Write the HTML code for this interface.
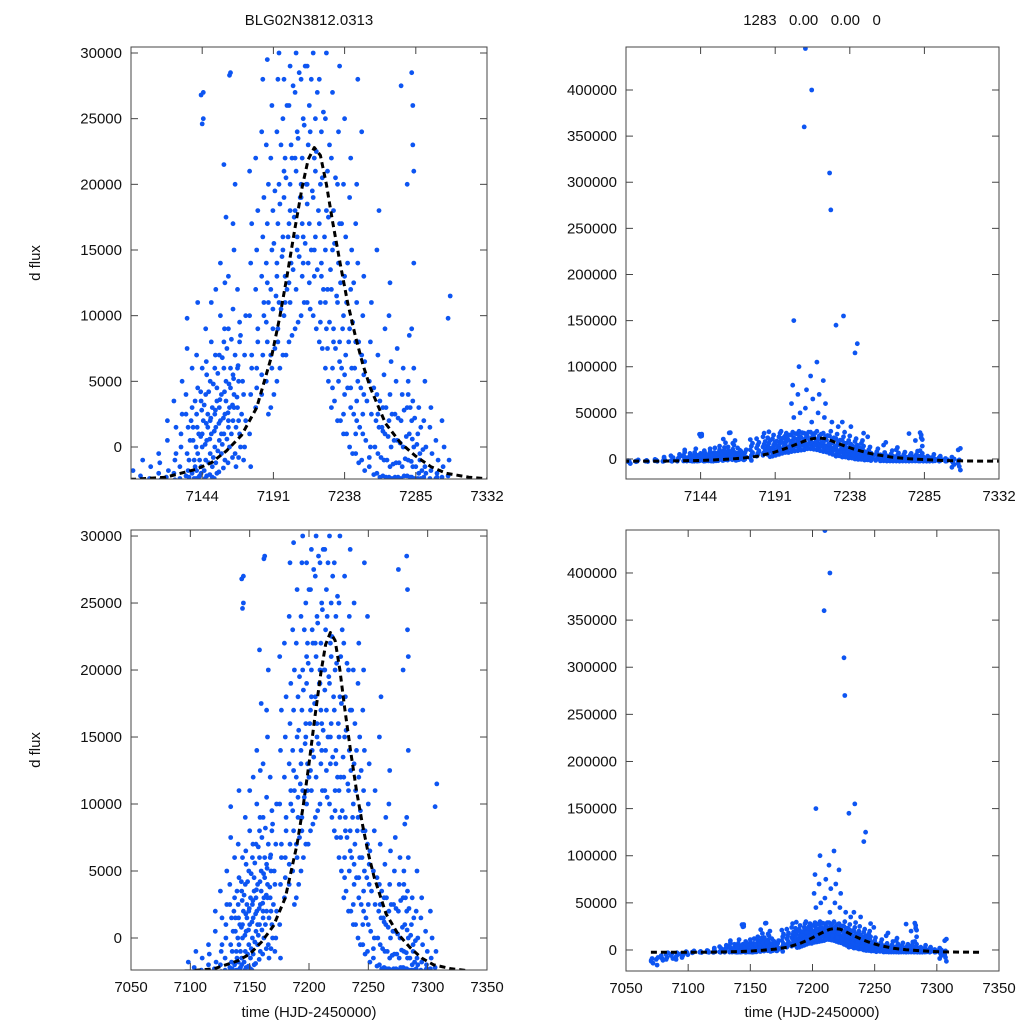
<!DOCTYPE html>
<html><head><meta charset="utf-8"><style>
html,body{margin:0;padding:0;background:#fff;font-family:"Liberation Sans",sans-serif;overflow:hidden;width:1024px;height:1024px;}
svg{display:block}
text{font-family:"Liberation Sans",sans-serif;fill:#111;}
</style></head><body>
<svg id="fig" width="1024" height="1024" viewBox="0 0 1024 1024" xmlns="http://www.w3.org/2000/svg">
<text x="309" y="25" font-size="15" text-anchor="middle">BLG02N3812.0313</text>
<text x="812" y="25" font-size="15" text-anchor="middle" xml:space="preserve">1283   0.00   0.00   0</text>
<text transform="translate(40,263) rotate(-90)" font-size="15" text-anchor="middle">d flux</text>
<text transform="translate(40,750) rotate(-90)" font-size="15" text-anchor="middle">d flux</text>
<text x="309" y="1017" font-size="15" text-anchor="middle">time (HJD-2450000)</text>
<text x="812" y="1017" font-size="15" text-anchor="middle">time (HJD-2450000)</text>
</svg>
<script>
const nightTimes=[7071,7075,7079,7083,7087,7091,7095,7099,7104,7110,7116,7121,7126,7130,7134,7138,7141,7144,7147,7150,7153,7156,7159,7162,7165,7168,7172,7176,7180,7184,7187,7190,7194,7198,7202,7206,7210,7214,7218,7222,7226,7230,7234,7238,7242,7246,7250,7255,7260,7264,7268,7272,7276,7280,7283,7287,7291,7295,7299,7303,7307];
const nightFluxes=[
[-12000,-9000,-14000,-11000],[-10000,-16000,-8000],[-6000,-9000,-11000,-7000],[-5000,-8000,-3000,-10000],[-6000,-4000,-9000],[-7000,-3000,-5000,-10000],[-4000,-8000,-6000],[-3000,-2600,-5000,-1800],[-2200,-2500,-1000,-3000],[-2400,-1500,-2800],[-2000,-1200,-2500,-500],[-2300,500,-1800,-2600,2000],[-2000,-1000,1500,3500,-2500,-500],[-1500,0,2500,-2400,1000,5000],[-2200,-500,1500,4000,9800,-1800,2500,7500],[-2000,500,-1000,3000,1500,-2400,6000],[-1800,-500,1000,2500,4500,-2300,7000,11000],[-1500,0,2000,3500,6000,27000,26800,24600,25000,-2000,1000],[-1000,500,2500,4000,-2200,1500,9000,5500],[-500,1000,3000,5000,8000,-1500,2000,11000,-2300],[0,1500,3500,6000,-1200,4500,2500,12000,-2000],[500,2000,4000,7000,10000,-500,3000,14000,1000],[1000,2500,5000,8000,12500,17500,21500,-1000,3500,6000],[1500,3000,6000,9000,28300,28500,13000,0,4500,2000],[2000,4000,7000,10500,15000,-500,5500,3000,20000,17000],[3000,5000,8000,12000,-800,1000,6000,2000,9500],[-1000,0,2000,4000,7000,10000],[1000,4000,7000,10000,14000,17000,21000,-1500,6000],[3000,6000,9000,12000,15000,18000,22000,4500,8000],[4000,7000,10000,13000,16000,19000,24000,28000,11000,5500],[5000,8000,11000,14000,17000,20000,23000,29500,2500,9500,12500],[3000,6000,9000,12000,15000,18000,22000,26000,10500,7000],[5000,8000,11000,14000,17000,20000,24000,28000,30000,13000,9000],[7000,10000,13000,16000,19000,22000,25000,28000,11000,15000,21000],[8000,11000,14000,17000,20000,23000,26000,29000,45000,60000,80000,150000,12500,18000],[9000,12000,15000,18000,21000,24000,27000,30000,50000,70000,100000,16000,22000],[10000,13000,16000,19000,22000,25000,28000,55000,75000,360000,445000,14000,20000,17000],[11000,14000,17000,20000,23000,26000,29000,40000,65000,90000,400000,12500,18500],[10000,13000,16000,19000,22000,25000,30000,50000,70000,105000,15000,21000],[8000,11000,14000,17000,20000,24000,28000,45000,60000,85000,9500,13000],[6000,9000,12000,15000,18000,21000,25000,30000,40000,310000,270000,7500,11000],[3000,6000,9000,12000,15000,18000,22000,27000,35000,145000,4500,8000],[2000,5000,8000,11000,14000,17000,20000,24000,29000,40000,155000,6500],[1000,4000,7000,10000,13000,16000,20000,25000,35000,2500,5500],[0,3000,6000,9000,12000,15000,19000,22000,125000,115000,4500],[-500,2000,5000,8000,11000,14000,17000,20000,28000,1000,3500],[-1000,1000,4000,7000,10000,13000,24000,2500,5500],[-1500,0,2500,5000,8000,11000,-800],[-2000,-500,1500,4000,7000,18000,15000,2500],[-2200,-1000,1000,3000,5500,9000,1200],[-2300,-1500,0,2000,4000,6500,10000,12500],[-2300,-1200,500,2500,5000,7500],[-2400,-1500,0,2000,4000,6000,27500],[-2200,-1000,1000,3000,5000,8500,20000,4000],[-2300,-1500,0,2000,3500,6000,9000,23000,21000,28500,26000,14000],[-2400,-2000,-500,1000,3000,-1000],[-2300,-1500,0,2000,5000,-2000],[-2400,-1800,-500,1500,3000],[-2400,-2000,-1000,500,-2300],[-2300,-1500,0,2000,-4000,-6000,-9000],[-2200,-1000,11500,9800,-8000,-12000,-5000]];
const extraTimes=[7136,7140,7143,7146,7149,7152,7155,7158,7161,7164,7167,7170,7192,7196,7200,7204,7208,7212,7216,7220,7224,7228,7232,7236,7240,7244,7248,7252,7258,7262,7266,7270,7274,7278,7282,7285,7289];
const extraFluxes=[
[-1000,500,2000,-2300],[-1500,0,1500,3500,-2400],[-1000,800,2800,-2200,4200],[-1800,200,1800,3200,-2400,6500],[-1200,600,2200,4200,-2100],[-800,1200,2800,4800,-2400,7000],[-300,1800,3600,5600,-1900],[200,2200,4200,6800,-1600,9000],[600,2600,4800,7500,-1200],[1000,3200,5200,8200,-800],[1500,3800,6200,-1500],[0,2500,5000,8500],
[4000,7500,11500,15500,19500],[6000,10500,14500,18500,23000],[7000,12000,16000,20500,26000],[8500,13500,17500,22000,27500],[9500,14500,19000,23500,28500],[11000,15500,20000,24500,29000],[10500,15000,19500,24000,28000],[9000,13500,18000,22500,27000],[7500,12000,16000,20500,25500],[5000,9500,13500,17500,23000],[3500,7500,11500,15500,20500],[2000,6000,9000,12500,17000],[1000,4500,8000,11000,14000],[-500,2500,6000,9500,12500],[-1200,1500,4500,8000],[-1800,500,3500,6500],
[-2100,0,2000,4500],[-2300,-800,1500,3500],[-2300,-1000,800,3000],[-2400,-1300,500,2500],[-2300,-1200,300,2200],[-2200,-900,800,2800],[-2300,-1100,600,3000],[-2400,-1500,200,2200],[-2400,-1800,-200,1500]];
const modelTimes=[7070,7100,7120,7140,7150,7160,7170,7180,7190,7195,7200,7205,7210,7214,7218,7222,7226,7230,7235,7240,7245,7250,7255,7265,7275,7285,7295,7305,7320,7335];
const modelFlux=[-2500,-2450,-2300,-1700,-1200,-300,900,3000,7000,9800,13000,16500,19800,21900,22800,22200,20000,17200,14000,11000,8500,6300,4500,1800,300,-700,-1500,-2000,-2300,-2450];
const xTicksTop=[7144,7191,7238,7285,7332];
const xTicksBottom=[7050,7100,7150,7200,7250,7300,7350];
const yTicksLeft=[0,5000,10000,15000,20000,25000,30000];
const yTicksRight=[0,50000,100000,150000,200000,250000,300000,350000,400000];

const NS='http://www.w3.org/2000/svg';
const svg=document.getElementById('fig');
function mk(tag,attrs,parent){const e=document.createElementNS(NS,tag);for(const k in attrs)e.setAttribute(k,attrs[k]);(parent||svg).appendChild(e);return e;}
const panels=[
 {id:'top-left',x0:131,x1:487,y0:47,y1:479,xd:[7097,7332],yd:[-2437,30457],xt:xTicksTop,yt:yTicksLeft,modelStart:7097},
 {id:'top-right',x0:626,x1:999,y0:47,y1:479,xd:[7097,7332],yd:[-21700,446600],xt:xTicksTop,yt:yTicksRight,modelStart:7097},
 {id:'bottom-left',x0:131,x1:487,y0:530,y1:970,xd:[7050,7350],yd:[-2388,30450],xt:xTicksBottom,yt:yTicksLeft,modelStart:7100},
 {id:'bottom-right',x0:626,x1:999,y0:530,y1:971,xd:[7050,7350],yd:[-22300,445600],xt:xTicksBottom,yt:yTicksRight,modelStart:7100}
];
panels.forEach((p,i)=>{
 const sx=v=>p.x0+(v-p.xd[0])/(p.xd[1]-p.xd[0])*(p.x1-p.x0);
 const sy=v=>p.y1-(v-p.yd[0])/(p.yd[1]-p.yd[0])*(p.y1-p.y0);
 const g=mk('g',{});
 
 
 const cp=mk('clipPath',{id:'clip'+i},g);
 mk('rect',{x:p.x0,y:p.y0,width:p.x1-p.x0,height:p.y1-p.y0},cp);
 const pts=mk('g',{'clip-path':'url(#clip'+i+')',fill:'#0d55f2'},g);
 
 
 const plot=(times,fluxes)=>times.forEach((t,j)=>{fluxes[j].forEach((f,k)=>{
  const c=mk('circle',{cx:sx(t+(k%3-1)*0.7).toFixed(1),cy:sy(f).toFixed(1),r:2.4},pts);
  
  
 });});
 plot(nightTimes,nightFluxes);
 plot(extraTimes,extraFluxes);
 let d='';
 modelTimes.forEach((t,j)=>{if(j<modelTimes.length-1&&modelTimes[j+1]<p.modelStart)return;d+=(d?'L':'M')+sx(t).toFixed(1)+','+sy(modelFlux[j]).toFixed(1);});
 const ml=mk('path',{d:d,fill:'none',stroke:'#000','stroke-width':3,'stroke-dasharray':'6,4','stroke-linejoin':'round','clip-path':'url(#clip'+i+')'},g);
 
 
 const fr=mk('rect',{x:p.x0,y:p.y0,width:p.x1-p.x0,height:p.y1-p.y0,fill:'none',stroke:'#444','stroke-width':1},g);
 
 
 p.xt.forEach(v=>{const x=sx(v);
  mk('line',{x1:x,x2:x,y1:p.y1,y2:p.y1-7,stroke:'#444'},g);
  mk('line',{x1:x,x2:x,y1:p.y0,y2:p.y0+7,stroke:'#444'},g);
  const t=mk('text',{x:x,y:p.y1+22,'font-size':15,'text-anchor':'middle'},g);t.textContent=v;
  
  
 });
 p.yt.forEach(v=>{const y=sy(v);
  mk('line',{x1:p.x0,x2:p.x0+7,y1:y,y2:y,stroke:'#444'},g);
  mk('line',{x1:p.x1,x2:p.x1-7,y1:y,y2:y,stroke:'#444'},g);
  const t=mk('text',{x:p.x0-9,y:y+5,'font-size':15,'text-anchor':'end'},g);t.textContent=v;
  
  
 });
});
</script>
</body></html>
